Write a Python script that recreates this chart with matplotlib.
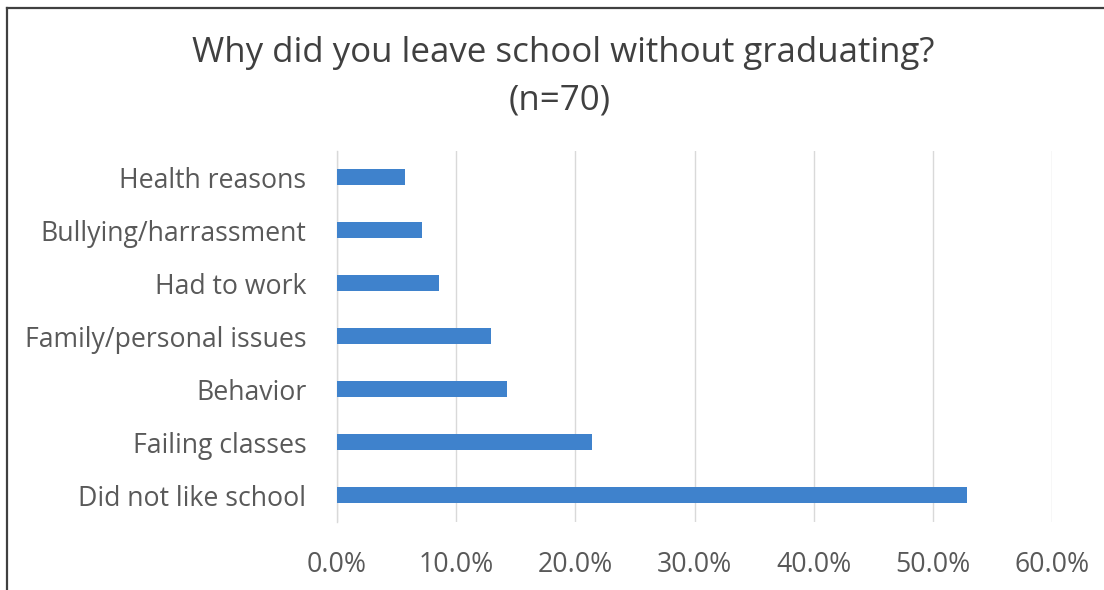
import matplotlib
matplotlib.use("Agg")
import matplotlib.pyplot as plt
from matplotlib.lines import Line2D
from matplotlib.ticker import FuncFormatter

# Survey responses (n=70), share of respondents per reason
reasons = [
    "Did not like school",
    "Failing classes",
    "Behavior",
    "Family/personal issues",
    "Had to work",
    "Bullying/harrassment",
    "Health reasons",
]
shares = [0.529, 0.214, 0.143, 0.129, 0.086, 0.071, 0.057]
x_ticks = [0.0, 0.1, 0.2, 0.3, 0.4, 0.5, 0.6]

title_line1 = "Why did you leave school without graduating?"
title_line2 = "(n=70)"

plt.rcParams["font.family"] = ["Open Sans", "DejaVu Sans"]

W, H = 1104, 590
fig = plt.figure(figsize=(W / 100, H / 100), dpi=100)
fig.patch.set_facecolor("white")

ax = fig.add_axes([337 / W, 1 - 521.5 / H, (1052 - 337) / W, (521.5 - 150.5) / H])
ax.set_facecolor("white")

ypos = list(range(len(reasons)))
ax.barh(ypos, shares, height=0.32, color="#3f82cc", zorder=3)

ax.set_xlim(0, 0.6)
ax.set_ylim(-0.5, len(reasons) - 0.5)
ax.set_xticks(x_ticks)
ax.xaxis.set_major_formatter(FuncFormatter(lambda v, _: f"{v * 100:.1f}%"))
ax.set_yticks(ypos)
ax.set_yticklabels(reasons)

ax.grid(axis="x", color="#d9d9d9", linewidth=1.0, zorder=0)
for side in ["top", "right", "bottom"]:
    ax.spines[side].set_visible(False)
ax.spines["left"].set_color("#d9d9d9")
ax.spines["left"].set_linewidth(1.0)

ax.tick_params(axis="both", length=0, colors="#595959", labelsize=19.2)
ax.tick_params(axis="y", pad=22)
ax.tick_params(axis="x", pad=21)

fig.text(563.5 / W, 1 - 62 / H, title_line1, ha="center", va="baseline",
         fontsize=25.1, color="#404040")
fig.text(560 / W, 1 - 110 / H, title_line2, ha="center", va="baseline",
         fontsize=25.1, color="#404040")

# outer frame (top and left edges)
fig.add_artist(Line2D([7 / W, 1.0], [1 - 8 / H, 1 - 8 / H], transform=fig.transFigure,
                      color="#404040", linewidth=1.6))
fig.add_artist(Line2D([7 / W, 7 / W], [0.0, 1 - 8 / H], transform=fig.transFigure,
                      color="#404040", linewidth=1.6))

fig.savefig("out.png", dpi=100, facecolor="white")
